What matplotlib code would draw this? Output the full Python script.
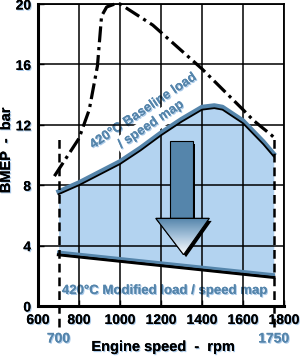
import matplotlib
matplotlib.use('Agg')
import matplotlib.pyplot as plt
import matplotlib.patheffects as pe
from matplotlib.patches import Polygon
import matplotlib.transforms as mtransforms
import numpy as np

plt.rcParams['font.family'] = ['Liberation Sans', 'DejaVu Sans']
plt.rcParams['font.weight'] = 'bold'

# baseline (upper) edge of the load/speed map
base_rpm = [700, 800, 900, 1000, 1100, 1200, 1300, 1400, 1460, 1500, 1600, 1650, 1700, 1750]
base_bmep = [7.5, 8.1, 8.8, 9.5, 10.4, 11.4, 12.3, 13.1, 13.2, 13.1, 12.2, 11.5, 10.8, 10.0]

# modified (lower) edge of the map
mod_rpm = [700, 1750]
mod_bmep = [3.5, 2.0]

# full-load dash-dot curve
full_rpm = [680, 800, 850, 890, 910, 935, 975, 1000, 1160, 1400, 1600, 1650, 1740, 1755]
full_bmep = [8.6, 11.1, 13.0, 15.9, 19.2, 19.8, 20.0, 20.0, 18.6, 15.7, 13.0, 12.3, 11.3, 11.1]

speed_limits = [700, 1750]
x_ticks = [600, 800, 1000, 1200, 1400, 1600, 1800]
y_ticks = [0, 4, 8, 12, 16, 20]

steel = '#5585ab'
light = '#b3d3f0'
shadow = [pe.withSimplePatchShadow(offset=(0.8, -0.8), shadow_rgbFace='#a8c8e8', alpha=1), pe.Normal()]
white_box = dict(facecolor='white', edgecolor='none', pad=2)

fig = plt.figure(figsize=(3.08, 3.57), dpi=100)
ax = fig.add_axes([0.1234, 0.1429, 0.7987, 0.846])
ax.set_xlim(600, 1800)
ax.set_ylim(0, 20)

# map area
xs = np.linspace(700, 1750, 200)
upper = np.interp(xs, base_rpm, base_bmep)
lower = np.interp(xs, mod_rpm, mod_bmep)
ax.fill_between(xs, lower, upper, color=light, zorder=1, lw=0)

ax.set_xticks(x_ticks)
ax.set_yticks(y_ticks)
ax.grid(True, color='black', lw=1.1, zorder=2)
ax.set_axisbelow(False)

down = mtransforms.offset_copy(ax.transData, fig=fig, x=0, y=-1.5, units='dots')
up = mtransforms.offset_copy(ax.transData, fig=fig, x=0, y=1.2, units='dots')
ax.plot(base_rpm, base_bmep, color=steel, lw=3.2, zorder=3, transform=up)
ax.plot(base_rpm, base_bmep, color='black', lw=1.3, zorder=4, transform=down)
ax.plot(mod_rpm, mod_bmep, color='black', lw=2.4, zorder=3, transform=down)
ax.plot(mod_rpm, mod_bmep, color=steel, lw=2.0, zorder=4, transform=up)

ax.plot(full_rpm, full_bmep, color='black', lw=2.3, ls=(0, (5, 1.5, 1, 1.5)), zorder=5, clip_on=False)

for s in speed_limits:
    ax.plot([s, s], [-1.4, 11.3], color='black', lw=1.8, ls=(0, (3.5, 2)), zorder=5, clip_on=False)

# arrow
shaft = [(1245, 10.9), (1355, 10.9), (1355, 5.8), (1245, 5.8)]
head = [(1175, 5.8), (1435, 5.8), (1310, 3.4)]
off = mtransforms.offset_copy(ax.transData, fig=fig, x=2.5, y=-2.5, units='dots')
ax.add_patch(Polygon(shaft, closed=True, fc='black', ec='none', transform=off, zorder=6))
ax.add_patch(Polygon(head, closed=True, fc='black', ec='none', transform=off, zorder=6))
ax.add_patch(Polygon(shaft, closed=True, fc=steel, ec='black', lw=0.8, zorder=7))
tri = Polygon(head, closed=True, fc='white', ec='black', lw=0.8, zorder=7)
ax.add_patch(tri)
grad = np.linspace(0, 1, 50).reshape(-1, 1)
cmap = matplotlib.colors.LinearSegmentedColormap.from_list('g', [steel, '#a8c4dc', 'white'])
im = ax.imshow(grad, cmap=cmap, extent=[1175, 1435, 3.4, 5.8], origin='upper', aspect='auto', zorder=7.5)
im.set_clip_path(tri)
ax.add_patch(Polygon(head, closed=True, fc='none', ec='black', lw=0.8, zorder=8))
ax.set_xlim(600, 1800)
ax.set_ylim(0, 20)

ax.text(1115, 12.9, '420°C Baseline load', rotation=34, color=steel, fontsize=9.5,
        fontweight='bold', ha='center', va='center', rotation_mode='anchor', zorder=2.5,
        bbox=white_box, path_effects=shadow)
ax.text(1151, 12.0, '/ speed map', rotation=34, color=steel, fontsize=9.5,
        fontweight='bold', ha='center', va='center', rotation_mode='anchor', zorder=2.6,
        bbox=white_box, path_effects=shadow)
ax.text(1218, 1.0, '420°C Modified load / speed map', color=steel, fontsize=9.5,
        fontweight='bold', ha='center', va='center', zorder=2.5, bbox=white_box, path_effects=shadow)

for s in speed_limits:
    ax.text(s, -2.15, str(s), color=steel, fontsize=10, fontweight='bold', ha='center', va='center',
            clip_on=False, path_effects=shadow)

ax.tick_params(direction='in', length=4, width=1, labelsize=10, pad=5)
for lab in ax.get_xticklabels() + ax.get_yticklabels():
    lab.set_fontweight('bold')
    lab.set_path_effects(shadow)

for side in ['left', 'bottom']:
    ax.spines[side].set_linewidth(2.2)
for side in ['top', 'right']:
    ax.spines[side].set_linewidth(1.3)

fig.text(0.532, 1 - 347 / 357, 'Engine speed  -  rpm', fontsize=10.5, fontweight='bold',
         ha='center', va='center', path_effects=shadow)
fig.text(6 / 308, 1 - 150 / 357, 'BMEP  -  bar', fontsize=10.5, fontweight='bold', rotation=90,
         ha='center', va='center', path_effects=shadow)

fig.savefig('out.png', dpi=100)
